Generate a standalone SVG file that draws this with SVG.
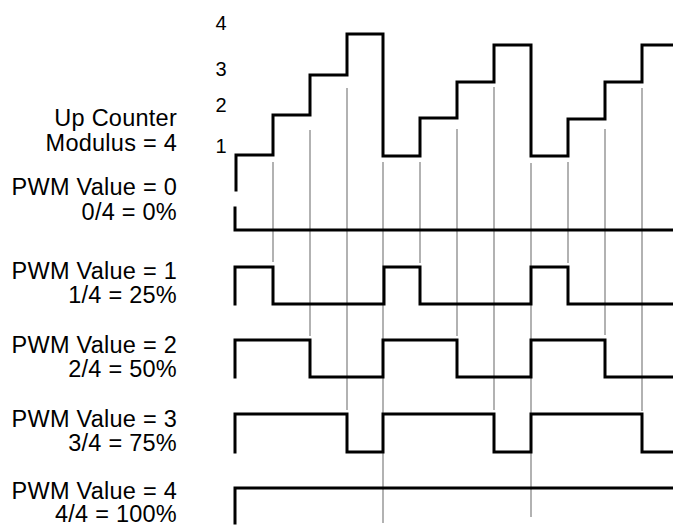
<svg xmlns="http://www.w3.org/2000/svg" width="673" height="525" viewBox="0 0 673 525">
  <style>
    .lbl { font-family: "Liberation Sans", Arial, sans-serif; font-size: 23.5px; letter-spacing: 0.25px; fill: #000; text-anchor: end; }
    .num { font-family: "Liberation Sans", Arial, sans-serif; font-size: 20px; fill: #000; text-anchor: middle; }
    .wave { fill: none; stroke: #000; stroke-width: 3; stroke-linejoin: miter; stroke-linecap: square; }
    .guide { fill: none; stroke: #999; stroke-width: 1.5; }
  </style>
  <rect width="673" height="525" fill="#fff"/>

  <g id="guides">
    <line class="guide" x1="273" y1="162" x2="273" y2="262"/>
    <line class="guide" x1="310" y1="130" x2="310" y2="336"/>
    <line class="guide" x1="347" y1="88" x2="347" y2="410"/>
    <line class="guide" x1="383" y1="162" x2="383" y2="523"/>
    <line class="guide" x1="420" y1="162" x2="420" y2="263"/>
    <line class="guide" x1="457" y1="129" x2="457" y2="336"/>
    <line class="guide" x1="494" y1="87" x2="494" y2="410"/>
    <line class="guide" x1="531" y1="163" x2="531" y2="517"/>
    <line class="guide" x1="568" y1="162" x2="568" y2="263"/>
    <line class="guide" x1="605" y1="129" x2="605" y2="335"/>
    <line class="guide" x1="642" y1="88" x2="642" y2="411"/>
  </g>

  <g id="axis-numbers">
    <text class="num" x="221" y="30">4</text>
    <text class="num" x="221" y="76">3</text>
    <text class="num" x="221" y="112">2</text>
    <text class="num" x="221" y="153">1</text>
  </g>

  <g id="counter">
    <text class="lbl" x="177" y="126">Up Counter</text>
    <text class="lbl" x="177" y="151">Modulus = 4</text>
    <path class="wave" d="M236,190 V155 H273 V115 H310 V75 H347 V34 H383 V156 H420 V118 H457 V82 H494 V45 H531 V156 H568 V119 H605 V82 H642 V45 H673"/>
  </g>

  <g id="pwm0">
    <text class="lbl" x="177" y="195">PWM Value = 0</text>
    <text class="lbl" x="177" y="220">0/4 = 0%</text>
    <path class="wave" d="M235,208 V230 H673"/>
  </g>

  <g id="pwm1">
    <text class="lbl" x="177" y="279">PWM Value = 1</text>
    <text class="lbl" x="177" y="303">1/4 = 25%</text>
    <path class="wave" d="M235,304 V267 H273 V304 H384 V267 H420 V304 H531 V267 H568 V304 H673"/>
  </g>

  <g id="pwm2">
    <text class="lbl" x="177" y="353">PWM Value = 2</text>
    <text class="lbl" x="177" y="377">2/4 = 50%</text>
    <path class="wave" d="M235,377 V340 H310 V377 H383 V340 H457 V377 H531 V340 H605 V377 H673"/>
  </g>

  <g id="pwm3">
    <text class="lbl" x="177" y="427">PWM Value = 3</text>
    <text class="lbl" x="177" y="451">3/4 = 75%</text>
    <path class="wave" d="M235,452 V414 H347 V452 H383 V414 H494 V452 H531 V414 H642 V452 H673"/>
  </g>

  <g id="pwm4">
    <text class="lbl" x="177" y="499">PWM Value = 4</text>
    <text class="lbl" x="177" y="522">4/4 = 100%</text>
    <path class="wave" d="M235,523 V488 H673"/>
  </g>
</svg>
